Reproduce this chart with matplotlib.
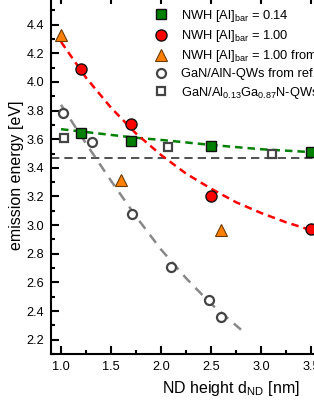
"""
emission energy vs ND height for nanowire heterostructures
"""
import numpy as np
import matplotlib
matplotlib.use('Agg')
import matplotlib.pyplot as plt
from matplotlib.ticker import MultipleLocator

plt.rcParams['font.family'] = ['Liberation Sans', 'DejaVu Sans']
plt.rcParams['mathtext.fontset'] = 'custom'
plt.rcParams['mathtext.rm'] = 'Liberation Sans'
plt.rcParams['mathtext.it'] = 'Liberation Sans:italic'

##------------------------------------------
# data
# NWH [Al]bar = 0.14
nwh014_x = [1.2, 1.7, 2.5, 3.5]
nwh014_y = [3.645, 3.59, 3.555, 3.51]
# NWH [Al]bar = 1.00
nwh100_x = [1.2, 1.7, 2.5, 3.5]
nwh100_y = [4.09, 3.705, 3.20, 2.97]
# NWH [Al]bar = 1.00 from ref.
ref_nwh_x = [1.0, 1.6, 2.6]
ref_nwh_y = [4.325, 3.315, 2.965]
# GaN/AlN-QWs
aln_x = [1.02, 1.31, 1.71, 2.1, 2.48, 2.6]
aln_y = [3.78, 3.58, 3.08, 2.71, 2.475, 2.36]
# GaN/Al0.13Ga0.87N-QWs
algan_x = [1.03, 2.07, 3.11]
algan_y = [3.61, 3.547, 3.498]

# dashed guide curves
fit014_x = [1.0, 1.25, 1.5, 1.75, 2.0, 2.5, 3.0, 3.5, 4.0]
fit014_y = [3.67, 3.65, 3.63, 3.61, 3.595, 3.56, 3.53, 3.51, 3.50]
fit100_x = [1.0, 1.25, 1.5, 1.75, 2.0, 2.25, 2.5, 2.75, 3.0, 3.25, 3.5, 4.0]
fit100_y = [4.28, 4.03, 3.82, 3.64, 3.49, 3.36, 3.255, 3.16, 3.085, 3.02, 2.965, 2.88]
fitaln_x = [1.0, 1.25, 1.5, 1.75, 2.0, 2.25, 2.5, 2.8]
fitaln_y = [3.84, 3.57, 3.31, 3.06, 2.83, 2.63, 2.45, 2.27]
gan_gap = 3.47

labels = [r'NWH [Al]$_{\mathrm{bar}}$ = 0.14',
          r'NWH [Al]$_{\mathrm{bar}}$ = 1.00',
          r'NWH [Al]$_{\mathrm{bar}}$ = 1.00 from ref.',
          r'GaN/AlN-QWs from ref.',
          r'GaN/Al$_{0.13}$Ga$_{0.87}$N-QWs from ref.']

#------------------------------------------------------------
fig = plt.figure(figsize=(3.14, 4.07), dpi=100)
# axes run past the right edge of the figure (cropped picture)
ax = fig.add_axes([51/314., 53/407., 360/314., 358/407.])

ax.axhline(gan_gap, color='#333333', ls=(0, (5, 3)), lw=1.2, zorder=1)
ax.plot(fit014_x, fit014_y, color='#008000', ls=(0, (3, 2)), lw=1.8, zorder=2)
ax.plot(fit100_x, fit100_y, color='#ff0000', ls=(0, (3, 2)), lw=1.8, zorder=2)
ax.plot(fitaln_x, fitaln_y, color='#888888', ls=(0, (4, 3)), lw=1.8, zorder=2)

ax.plot(nwh014_x, nwh014_y, 's', ms=7, mfc='#007f00', mec='#111111', mew=1.0,
        ls='none', label=labels[0], zorder=4)
ax.plot(nwh100_x, nwh100_y, 'o', ms=8, mfc='#ff0000', mec='#111111', mew=1.0,
        ls='none', label=labels[1], zorder=4)
ax.plot(ref_nwh_x, ref_nwh_y, '^', ms=8, mfc='#ff8000', mec='#6a3a00', mew=0.8,
        ls='none', label=labels[2], zorder=4)
ax.plot(aln_x, aln_y, 'o', ms=6.5, mfc='white', mec='#444444', mew=1.6,
        ls='none', label=labels[3], zorder=3)
ax.plot(algan_x, algan_y, 's', ms=6, mfc='white', mec='#444444', mew=1.6,
        ls='none', label=labels[4], zorder=3)

ax.set_xlim(0.9, 4.5)
ax.set_ylim(2.1, 4.6)
ax.xaxis.set_major_locator(MultipleLocator(0.5))
ax.xaxis.set_minor_locator(MultipleLocator(0.25))
ax.yaxis.set_major_locator(MultipleLocator(0.2))
ax.yaxis.set_minor_locator(MultipleLocator(0.1))
ax.tick_params(which='both', direction='in', top=True, right=True, width=1.5,
               labelsize=9.2, pad=5)
ax.tick_params(which='major', length=5.5)
ax.tick_params(which='minor', length=3)
for sp in ax.spines.values():
    sp.set_linewidth(1.5)

ax.set_xlabel(r'ND height d$_{\mathrm{ND}}$ [nm]', fontsize=11.5, labelpad=4)
ax.set_ylabel('emission energy [eV]', fontsize=11.5, labelpad=2)

leg = ax.legend(loc='upper left', bbox_to_anchor=(155/314., 1 - 8/407.),
                bbox_transform=fig.transFigure, frameon=False, fontsize=9.3,
                handlelength=1.0, handletextpad=1.0, labelspacing=0.32,
                borderpad=0, borderaxespad=0)

fig.savefig('out.png', dpi=100)
